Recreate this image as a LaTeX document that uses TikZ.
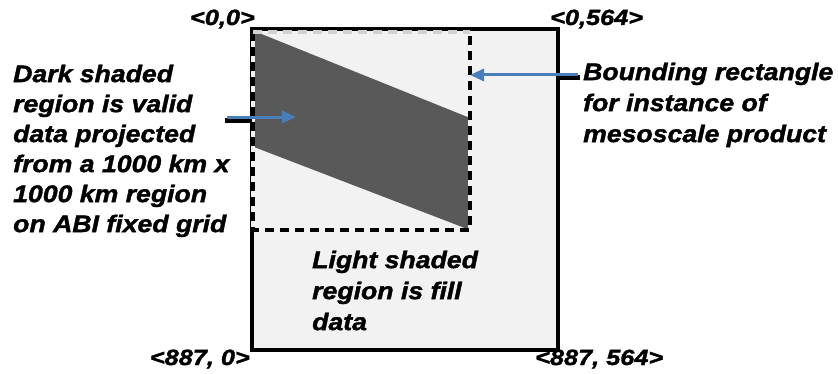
\documentclass[tikz,border=0pt]{standalone}
\usepackage{fontspec}
\setmainfont{Liberation Sans}[FakeStretch=1.11, BoldItalicFeatures={FakeBold=1.6}]
\newfontfamily\coordfont{Liberation Sans}[FakeStretch=1.15, BoldItalicFeatures={FakeBold=1.6}]
\usetikzlibrary{arrows.meta}
\definecolor{lightfill}{HTML}{F2F2F2}
\definecolor{darkfill}{HTML}{595959}
\definecolor{arrowblue}{HTML}{4A7EBB}
\tikzset{
  note/.style={anchor=north west, inner sep=0pt, align=left,
    font=\bfseries\itshape\fontsize{24}{30}\selectfont},
  corner/.style={inner sep=0pt, font=\coordfont\bfseries\itshape\fontsize{22}{24}\selectfont},
  pointer/.style={arrowblue, line width=3pt, -{Triangle[length=14pt,width=12pt]}},
  stub/.style={black, line width=5pt},
  dashbox/.style={line width=3.5pt, dash pattern=on 9pt off 6pt}
}
\begin{document}
\begin{tikzpicture}[x=1pt,y=1pt]
  \useasboundingbox (0,0) rectangle (838,373);
  % whole product area, fill data
  \draw[line width=3.5pt, fill=lightfill] (252,23) rectangle (558,344);
  % valid data
  \fill[darkfill] (254,342) -- (470,255) -- (470,143) -- (254,226) -- cycle;
  % bounding rectangle
  \coordinate (bbtl) at (253,341);
  \coordinate (bbtr) at (470,341);
  \coordinate (bbbr) at (470,143);
  \coordinate (bbbl) at (253,143);
  \draw[line width=3.5pt, lightfill] (bbtl) -- (bbbl) -- (bbbr) -- (bbtr);
  \draw[dashbox] (bbtl) -- (bbbl) -- (bbbr) -- (bbtr);
  \draw[dashbox, gray!35] (bbtl) -- (bbtr);
  % notes
  \node[note] (darknote) at (13,308.5) {Dark shaded\\region is valid\\data projected\\from a 1000 km x\\1000 km region\\on ABI fixed grid};
  \node[note, font=\bfseries\itshape\fontsize{24}{31}\selectfont] (boundnote) at (583,310.5) {Bounding rectangle\\for instance of\\mesoscale product};
  \node[note, font=\bfseries\itshape\fontsize{24}{31}\selectfont] (lightnote) at (312,122.5) {Light shaded\\region is fill\\data};
  % corners
  \node[corner, anchor=base east] (c00) at (255,348) {<0,0>};
  \node[corner, anchor=base west] (c0m) at (550,348) {<0,564>};
  \node[corner, anchor=base east] (cn0) at (250,8) {<887, 0>};
  \node[corner, anchor=base west] (cnm) at (535,8) {<887, 564>};
  % pointers
  \coordinate (dstub) at (225,253);
  \coordinate (dedge) at (252,253);
  \coordinate (dtail) at (227,256);
  \coordinate (dhead) at (296,256);
  \coordinate (bstub) at (580,295);
  \coordinate (bedge) at (558,295);
  \coordinate (btail) at (578,298);
  \coordinate (bhead) at (470,298);
  \draw[stub] (dstub) -- (dedge);
  \draw[stub] (bedge) -- (bstub);
  \draw[pointer] (dtail) -- (dhead);
  \draw[pointer] (btail) -- (bhead);
\end{tikzpicture}
\end{document}
